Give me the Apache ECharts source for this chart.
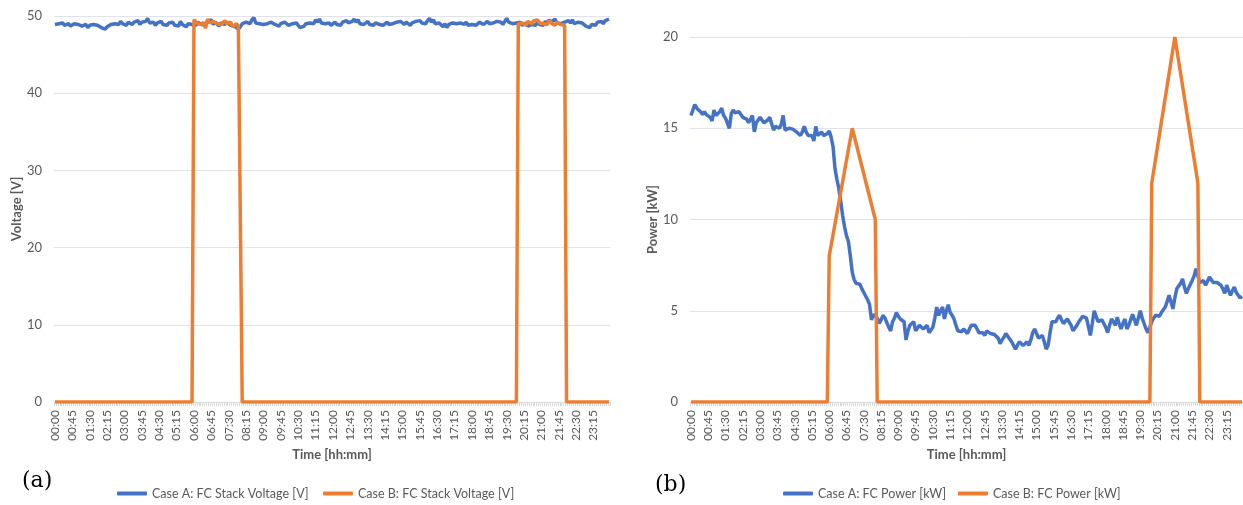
<!DOCTYPE html>
<html>
<head>
<meta charset="utf-8">
<script src="https://cdn.jsdelivr.net/npm/echarts@6/dist/echarts.min.js"></script>
<style>
  html, body { margin: 0; padding: 0; background: #fff; }
  #chart { width: 1243px; height: 505px; }
</style>
</head>
<body>
<div id="chart"></div>
<script>
// categories: one every 5 minutes over the day
const times = [];
for (let m = 0; m < 1440; m += 5) {
  const h = String(Math.floor(m / 60)).padStart(2, '0');
  const mm = String(m % 60).padStart(2, '0');
  times.push(h + ':' + mm);
}

// (a) Case A stack voltage [V], read every 5 min
const voltageA = [
  48.9, 48.8, 49.0, 48.9, 49.1, 48.8, 48.9, 49.0, 48.7, 48.9, 49.0, 48.8,
  48.9, 49.1, 48.7, 48.6, 48.9, 48.5, 48.8, 48.7, 48.9, 49.0, 48.8, 48.6,
  48.5, 48.7, 48.3, 48.6, 48.8, 48.9, 48.7, 49.0, 49.1, 48.9, 49.3, 49.0,
  49.1, 48.8, 49.2, 49.0, 48.9, 49.2, 49.1, 49.4, 48.9, 49.2, 49.0, 49.3,
  49.7, 49.1, 48.9, 49.2, 48.8, 49.1, 49.0, 49.3, 48.9, 49.0, 48.8, 49.1,
  48.9, 49.2, 48.8, 49.0, 48.7, 49.3, 48.9, 49.1, 48.6, 49.0, 49.2, 48.9,
  49.1, 48.8, 49.2, 49.4, 48.9, 49.0, 48.8, 49.3, 49.1, 49.5, 48.9, 49.2,
  49.0, 48.7, 49.1, 49.3, 48.9, 49.2, 49.0, 48.8, 49.0, 48.7, 48.5, 48.3,
  48.6, 49.0, 48.8, 49.2, 49.4, 49.0, 49.5, 49.8, 49.1, 49.3, 49.0, 49.2,
  48.9, 49.1, 49.0, 48.8, 49.2, 49.0, 48.9, 49.1, 48.7, 49.0, 48.9, 49.2,
  49.0, 48.8, 48.6, 49.0, 48.9, 49.1, 48.8, 48.5, 48.3, 48.7, 49.0, 48.8,
  49.1, 49.3, 49.0, 49.5, 49.2, 49.6, 49.1, 49.3, 49.0, 48.9, 49.1, 48.8,
  49.0, 49.2, 48.9, 49.1, 48.8, 49.2, 49.0, 49.4, 49.1, 48.9, 49.3, 49.6,
  49.2, 49.5, 49.0, 49.2, 48.9, 49.1, 49.3, 48.9, 49.0, 48.8, 49.1, 49.0,
  48.9, 49.1, 48.8, 49.0, 49.2, 48.9, 49.1, 49.0, 48.8, 49.2, 49.0, 49.3,
  49.1, 48.9, 49.2, 49.0, 48.8, 49.1, 49.0, 49.3, 49.2, 49.4, 49.1, 49.3,
  49.0, 49.4, 49.7, 49.2, 49.5, 49.0, 48.8, 49.1, 48.9, 48.6, 49.0, 48.5,
  48.9, 48.7, 49.1, 48.9, 49.0, 48.8, 49.1, 49.0, 48.9, 49.2, 48.8, 49.0,
  48.9, 49.1, 48.8, 49.0, 49.2, 49.0, 48.9, 49.1, 49.3, 49.0, 49.2, 49.1,
  49.0, 49.3, 49.1, 49.2, 48.9, 49.3, 49.7, 49.2, 49.4, 49.0, 49.2, 49.1,
  48.9, 49.2, 48.8, 49.0, 49.1, 48.7, 48.5, 48.9, 49.0, 48.8, 49.2, 48.9,
  49.1, 48.8, 49.3, 49.0, 49.5, 49.2, 49.0, 49.6, 49.1, 49.3, 49.0, 48.9,
  49.2, 49.0, 49.4, 49.1, 49.5, 49.0, 48.8, 49.2, 49.0, 49.1, 48.9, 48.7,
  48.8, 48.5, 48.9, 49.1, 48.8, 49.2, 49.0, 49.3, 49.0, 49.4, 49.2, 49.6
];

// (a) Case B stack voltage: zero except while the stack runs
const voltageBMorning = [   // 06:00 .. 08:00
  49.5, 49.3, 49.0, 49.1, 48.9, 49.2, 48.4, 49.6, 49.1, 49.0, 49.3, 49.2,
  49.0, 49.2, 48.9, 49.1, 49.4, 49.0, 48.9, 49.2, 48.6, 48.8, 49.0, 48.7, 48.5
];
const voltageBEvening = [   // 20:00 .. 22:00
  49.0, 48.9, 49.1, 49.2, 48.8, 49.3, 49.1, 49.0, 49.4, 49.2, 49.5, 49.1,
  49.3, 49.0, 49.2, 48.9, 49.4, 49.1, 49.3, 48.8, 49.2, 49.0, 48.9, 48.7, 48.8
];

// (b) Case A FC power [kW], read every 5 min
const powerA = [
  15.7, 16.0, 16.3, 16.1, 16.1, 15.9, 15.75, 15.9, 15.75, 15.7, 15.6, 15.4,
  16.0, 15.7, 15.6, 15.9, 16.1, 15.7, 15.55, 15.6, 15.0, 15.8, 16.0, 15.85,
  15.8, 15.9, 15.75, 15.6, 15.6, 15.5, 15.3, 15.25, 15.7, 14.8, 15.3, 15.3,
  15.6, 15.7, 15.3, 15.4, 15.45, 15.6, 15.5, 14.9, 15.1, 15.1, 15.0, 15.2,
  15.7, 14.9, 15.0, 15.0, 15.0, 14.95, 14.9, 14.8, 14.7, 14.6, 14.8, 15.1,
  14.8, 14.6, 14.65, 14.6, 14.3, 15.1, 14.6, 14.5, 14.8, 14.6, 14.55, 14.7,
  14.85, 14.5, 14.0, 12.8, 12.2, 11.7, 11.0, 10.2, 9.6, 9.1, 8.8, 8.0,
  7.1, 6.7, 6.5, 6.4, 6.45, 6.2, 6.0, 5.9, 5.6, 5.35, 4.5, 4.8,
  4.75, 4.6, 4.3, 4.5, 4.75, 4.6, 4.55, 4.1, 3.9, 4.4, 4.6, 4.9,
  4.7, 4.55, 4.5, 4.4, 3.4, 3.9, 4.2, 4.3, 4.4, 3.9, 4.0, 4.2,
  4.1, 4.0, 4.1, 4.2, 3.8, 3.9, 4.1, 4.6, 5.2, 4.75, 5.0, 5.2,
  4.55, 5.0, 5.33, 4.9, 4.75, 4.55, 4.2, 3.9, 3.8, 3.85, 4.0, 3.9,
  3.75, 4.0, 4.2, 4.1, 4.2, 4.0, 3.8, 3.9, 3.8, 3.65, 3.9, 3.8,
  3.75, 3.8, 3.7, 3.75, 3.5, 3.2, 3.4, 3.55, 3.75, 3.6, 3.5, 3.3,
  3.3, 2.9, 3.1, 3.3, 3.2, 3.1, 3.2, 3.3, 3.1, 3.4, 3.8, 4.0,
  3.9, 3.5, 3.6, 3.65, 3.3, 2.9, 3.1, 3.8, 4.4, 4.5, 4.4, 4.6,
  4.75, 4.5, 4.3, 4.4, 4.55, 4.5, 4.2, 3.9, 4.0, 4.2, 4.4, 4.55,
  4.7, 4.8, 4.6, 4.55, 3.65, 4.3, 5.0, 4.7, 4.4, 4.45, 4.5, 4.3,
  4.1, 3.8, 4.2, 4.55, 4.4, 4.2, 4.65, 4.3, 4.0, 4.3, 4.55, 4.0,
  4.2, 4.5, 4.8, 4.5, 4.2, 4.6, 5.0, 4.6, 4.3, 4.0, 3.8, 4.1,
  4.4, 4.6, 4.75, 4.65, 4.7, 4.9, 5.0, 5.2, 5.5, 5.85, 5.5, 5.1,
  5.7, 6.2, 6.3, 6.5, 6.75, 6.3, 5.95, 6.2, 6.3, 6.65, 6.9, 7.3,
  6.9, 6.55, 6.6, 6.65, 6.4, 6.6, 6.85, 6.7, 6.55, 6.6, 6.55, 6.5,
  6.4, 6.2, 5.95, 6.4, 6.1, 5.85, 6.1, 6.3, 6.0, 5.85, 5.7, 5.8
];

// (b) Case B FC power: break points of the profile
const powerBTimes = ['00:00', '05:55', '06:00', '07:00', '08:00', '08:05', '19:55', '20:00', '21:00', '22:00', '22:05', '23:55'];
const powerBValues = [0, 0, 8, 15, 10, 0, 0, 12, 20, 12, 0, 0];

const BLUE = '#4472C4';
const ORANGE = '#ED7D31';
const FONT = 'Lato';
const TXT = '#595959';

function pairs(ts, vs) {
  return ts.map((t, i) => [t, vs[i]]);
}

const voltageB = [
  ['00:00', 0], ['05:55', 0],
  ...pairs(times.slice(72, 97), voltageBMorning),
  ['08:05', 0], ['19:55', 0],
  ...pairs(times.slice(240, 265), voltageBEvening),
  ['22:05', 0], ['23:55', 0]
];

function xAxis(gridIndex) {
  return {
    type: 'category',
    gridIndex: gridIndex,
    data: times,
    name: 'Time [hh:mm]',
    nameLocation: 'middle',
    nameGap: 45,
    nameTextStyle: { fontFamily: FONT, fontSize: 13, fontWeight: 'bold', color: TXT },
    axisLine: { lineStyle: { color: '#d9d9d9' } },
    axisTick: { show: true, interval: 0, length: 4, lineStyle: { color: '#d9d9d9' } },
    axisLabel: { interval: 8, rotate: 90, margin: 8, fontFamily: FONT, fontSize: 12, color: TXT },
    splitLine: { show: false }
  };
}

function yAxis(gridIndex, name, max, interval) {
  return {
    type: 'value',
    gridIndex: gridIndex,
    min: 0,
    max: max,
    interval: interval,
    name: name,
    nameLocation: 'middle',
    nameGap: 30,
    nameTextStyle: { fontFamily: FONT, fontSize: 13, fontWeight: 'bold', color: TXT },
    axisLine: { show: false },
    axisTick: { show: false },
    axisLabel: { margin: 12, fontFamily: FONT, fontSize: 13, color: TXT },
    splitLine: { lineStyle: { color: '#e2e2eb' } }
  };
}

function line(name, idx, color, data) {
  return {
    name: name,
    type: 'line',
    xAxisIndex: idx,
    yAxisIndex: idx,
    data: data,
    symbol: 'none',
    lineStyle: { color: color, width: 3.5 },
    itemStyle: { color: color }
  };
}

function legend(name, left) {
  return {
    data: [name],
    left: left,
    top: 482,
    icon: 'roundRect',
    itemWidth: 30,
    itemHeight: 4,
    textStyle: { fontFamily: FONT, fontSize: 12.5, color: TXT }
  };
}

const chart = echarts.init(document.getElementById('chart'));
chart.setOption({
  animation: false,
  backgroundColor: '#fff',
  grid: [
    { left: 54, right: 633, top: 16, bottom: 103 },
    { left: 690, right: -1, top: 37, bottom: 103 }
  ],
  xAxis: [xAxis(0), xAxis(1)],
  yAxis: [yAxis(0, 'Voltage [V]', 50, 10), yAxis(1, 'Power [kW]', 20, 5)],
  legend: [
    legend('Case A: FC Stack Voltage [V]', 112),
    legend('Case B: FC Stack Voltage [V]', 318),
    legend('Case A: FC Power [kW]', 778),
    legend('Case B: FC Power [kW]', 953)
  ],
  graphic: [
    { type: 'text', left: 22, top: 470, style: { text: '(a)', font: '22px "DejaVu Serif"', fill: '#000' } },
    { type: 'text', left: 655, top: 474, style: { text: '(b)', font: '22px "DejaVu Serif"', fill: '#000' } }
  ],
  series: [
    line('Case A: FC Stack Voltage [V]', 0, BLUE, voltageA),
    line('Case B: FC Stack Voltage [V]', 0, ORANGE, voltageB),
    line('Case A: FC Power [kW]', 1, BLUE, powerA),
    line('Case B: FC Power [kW]', 1, ORANGE, pairs(powerBTimes, powerBValues))
  ]
});
</script>
</body>
</html>
